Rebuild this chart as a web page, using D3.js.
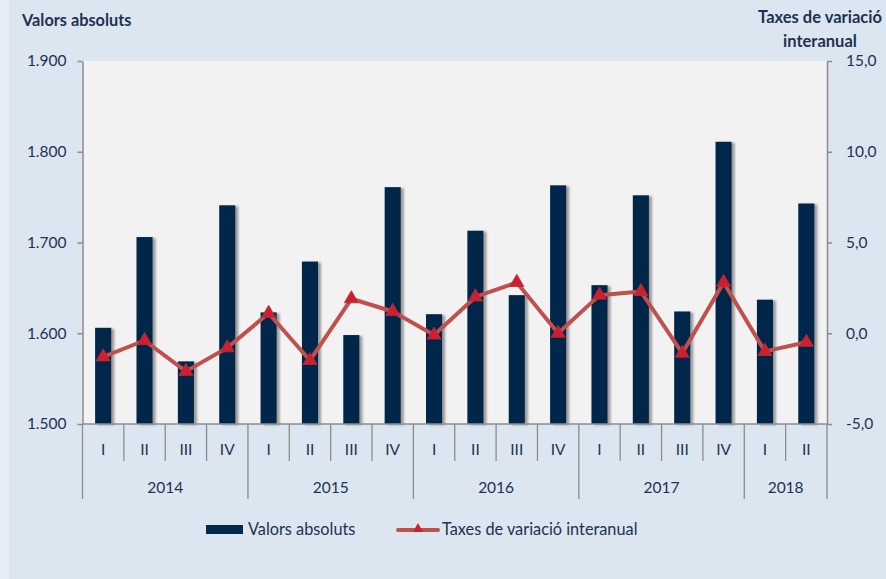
<!DOCTYPE html>
<html>
<head>
<meta charset="utf-8">
<script src="https://cdnjs.cloudflare.com/ajax/libs/d3/7.8.5/d3.min.js"></script>
<style>
  body { margin: 0; background: #dce6f1; }
  svg { display: block; font-family: Lato, 'Open Sans', sans-serif; }
</style>
</head>
<body>
<div id="chart"></div>
<script>
// Dades (llegides del gràfic)
const periodYears = ['2014','2014','2014','2014','2015','2015','2015','2015','2016','2016','2016','2016','2017','2017','2017','2017','2018','2018'];
const quarterLabels = ['I','II','III','IV','I','II','III','IV','I','II','III','IV','I','II','III','IV','I','II'];
const yearLabels = ['2014','2015','2016','2017','2018'];
const valorsAbsoluts = [1606, 1706, 1569, 1741, 1623, 1679, 1598, 1761, 1621, 1713, 1642, 1763, 1653, 1752, 1624, 1811, 1637, 1743];
const taxesVariacio = [-1.3, -0.4, -2.1, -0.8, 1.1, -1.5, 1.9, 1.2, -0.1, 2.0, 2.8, 0.0, 2.1, 2.3, -1.1, 2.8, -1.0, -0.5];
const leftTicks = [1500, 1600, 1700, 1800, 1900];
const rightTicks = [-5, 0, 5, 10, 15];

const config = {
  width: 886,
  height: 579,
  margin: { top: 61, right: 59, bottom: 155, left: 82.5 }
};
const innerW = config.width - config.margin.left - config.margin.right;
const innerH = config.height - config.margin.top - config.margin.bottom;

const textColor = '#1b3350';
const axisColor = '#8c8c8c';
const barColor = '#03284a';
const lineColor = '#c0504d';
const markerColor = '#cf1f2f';

const locale = d3.formatLocale({ decimal: ',', thousands: '.', grouping: [3], currency: ['', ''], minus: '-' });
const fmtLeft = locale.format(',.0f');
const fmtRight = locale.format('.1f');

const ids = d3.range(valorsAbsoluts.length);

const svg = d3.select('#chart').append('svg')
  .attr('width', config.width)
  .attr('height', config.height);

const defs = svg.append('defs');
const shadow = defs.append('filter').attr('id', 'shadow')
  .attr('x', '-20%').attr('y', '-5%').attr('width', '160%').attr('height', '110%');
shadow.append('feDropShadow')
  .attr('dx', 3).attr('dy', 1).attr('stdDeviation', 1.3)
  .attr('flood-color', '#555').attr('flood-opacity', 0.55);

// Fons
svg.append('rect').attr('width', config.width).attr('height', config.height).attr('fill', '#dce6f1');
svg.append('rect').attr('width', 9).attr('height', config.height).attr('fill', '#e5ecf5');

const g = svg.append('g')
  .attr('transform', `translate(${config.margin.left},${config.margin.top})`);

g.append('rect').attr('width', innerW).attr('height', innerH).attr('fill', '#f2f2f2');

// Escales
const xScale = d3.scaleBand().domain(ids).range([0, innerW]);
const yLeft = d3.scaleLinear().domain([1500, 1900]).range([innerH, 0]);
const yRight = d3.scaleLinear().domain([-5, 15]).range([innerH, 0]);
const barWidth = xScale.bandwidth() * 0.39;

// Barres
g.append('g').attr('class', 'bars')
  .selectAll('rect')
  .data(ids)
  .enter()
  .append('rect')
  .attr('x', i => xScale(i) + (xScale.bandwidth() - barWidth) / 2)
  .attr('y', i => yLeft(valorsAbsoluts[i]))
  .attr('width', barWidth)
  .attr('height', i => innerH - yLeft(valorsAbsoluts[i]))
  .attr('fill', barColor)
  .attr('filter', 'url(#shadow)');

// Eixos verticals
const leftAxis = g.append('g')
  .call(d3.axisLeft(yLeft).tickValues(leftTicks).tickFormat(fmtLeft).tickSize(5).tickPadding(11).tickSizeOuter(0));
const rightAxis = g.append('g')
  .attr('transform', `translate(${innerW},0)`)
  .call(d3.axisRight(yRight).tickValues(rightTicks).tickFormat(fmtRight).tickSize(5).tickPadding(14).tickSizeOuter(0));
[leftAxis, rightAxis].forEach(ax => {
  ax.select('.domain').attr('stroke', axisColor).attr('stroke-width', 1.5);
  ax.selectAll('.tick line').attr('stroke', axisColor).attr('stroke-width', 1.5);
  ax.selectAll('.tick text').attr('fill', textColor).attr('font-size', 15.5).attr('font-family', 'Lato, sans-serif');
});

// Eix X amb dos nivells
const xAxis = g.append('g').attr('class', 'x axis')
  .attr('transform', `translate(0,${innerH})`);
xAxis.append('line')
  .attr('x1', 0).attr('x2', innerW)
  .attr('stroke', axisColor).attr('stroke-width', 1.5);

const boundaries = d3.range(ids.length + 1);
xAxis.selectAll('.sep')
  .data(boundaries)
  .enter()
  .append('line')
  .attr('class', 'sep')
  .attr('x1', i => i * xScale.step())
  .attr('x2', i => i * xScale.step())
  .attr('y1', 0)
  .attr('y2', i => (i === 0 || i === ids.length || periodYears[i] !== periodYears[i - 1]) ? 75 : 37)
  .attr('stroke', axisColor).attr('stroke-width', 1.3);

xAxis.selectAll('.qlabel')
  .data(ids)
  .enter()
  .append('text')
  .attr('class', 'qlabel')
  .attr('x', i => xScale(i) + xScale.bandwidth() / 2)
  .attr('y', 31)
  .attr('text-anchor', 'middle')
  .attr('font-size', 15.5)
  .attr('fill', textColor)
  .text(i => quarterLabels[i]);

xAxis.selectAll('.ylabel')
  .data(yearLabels)
  .enter()
  .append('text')
  .attr('class', 'ylabel')
  .attr('x', y => {
    const idx = ids.filter(i => periodYears[i] === y);
    return (xScale(idx[0]) + xScale(idx[idx.length - 1]) + xScale.bandwidth()) / 2;
  })
  .attr('y', 69)
  .attr('text-anchor', 'middle')
  .attr('font-size', 15.5)
  .attr('fill', textColor)
  .text(y => y);

// Línia de taxes
const line = d3.line()
  .x(i => xScale(i) + xScale.bandwidth() / 2)
  .y(i => yRight(taxesVariacio[i]));

g.append('path')
  .datum(ids)
  .attr('d', line)
  .attr('fill', 'none')
  .attr('stroke', lineColor)
  .attr('stroke-width', 4)
  .attr('stroke-linejoin', 'round');

g.append('g').attr('class', 'markers')
  .selectAll('path')
  .data(ids)
  .enter()
  .append('path')
  .attr('d', d3.symbol(d3.symbolTriangle).size(85))
  .attr('transform', i => `translate(${xScale(i) + xScale.bandwidth() / 2},${yRight(taxesVariacio[i])})`)
  .attr('fill', markerColor)
  .attr('stroke', '#b0303a')
  .attr('stroke-width', 0.8);

// Títols dels eixos
svg.append('text')
  .attr('x', 22).attr('y', 26)
  .attr('font-size', 16.3).attr('font-weight', 'bold')
  .attr('fill', textColor)
  .text('Valors absoluts');

const rTitle = svg.append('text')
  .attr('text-anchor', 'middle')
  .attr('font-size', 16.5).attr('font-weight', 'bold')
  .attr('fill', textColor);
rTitle.append('tspan').attr('x', 820).attr('y', 23).text('Taxes de variació');
rTitle.append('tspan').attr('x', 820).attr('y', 47).text('interanual');

// Llegenda
const legend = svg.append('g').attr('class', 'legend');
legend.append('rect')
  .attr('x', 206).attr('y', 525).attr('width', 37).attr('height', 9)
  .attr('fill', barColor);
legend.append('text')
  .attr('x', 248).attr('y', 535)
  .attr('font-size', 16.3).attr('fill', textColor)
  .text('Valors absoluts');
legend.append('line')
  .attr('x1', 398).attr('x2', 438).attr('y1', 530).attr('y2', 530)
  .attr('stroke', lineColor).attr('stroke-width', 4).attr('stroke-linecap', 'round');
legend.append('path')
  .attr('d', d3.symbol(d3.symbolTriangle).size(45))
  .attr('transform', 'translate(418,529)')
  .attr('fill', markerColor);
legend.append('text')
  .attr('x', 442).attr('y', 535)
  .attr('font-size', 16.3).attr('fill', textColor)
  .text('Taxes de variació interanual');
</script>
</body>
</html>
